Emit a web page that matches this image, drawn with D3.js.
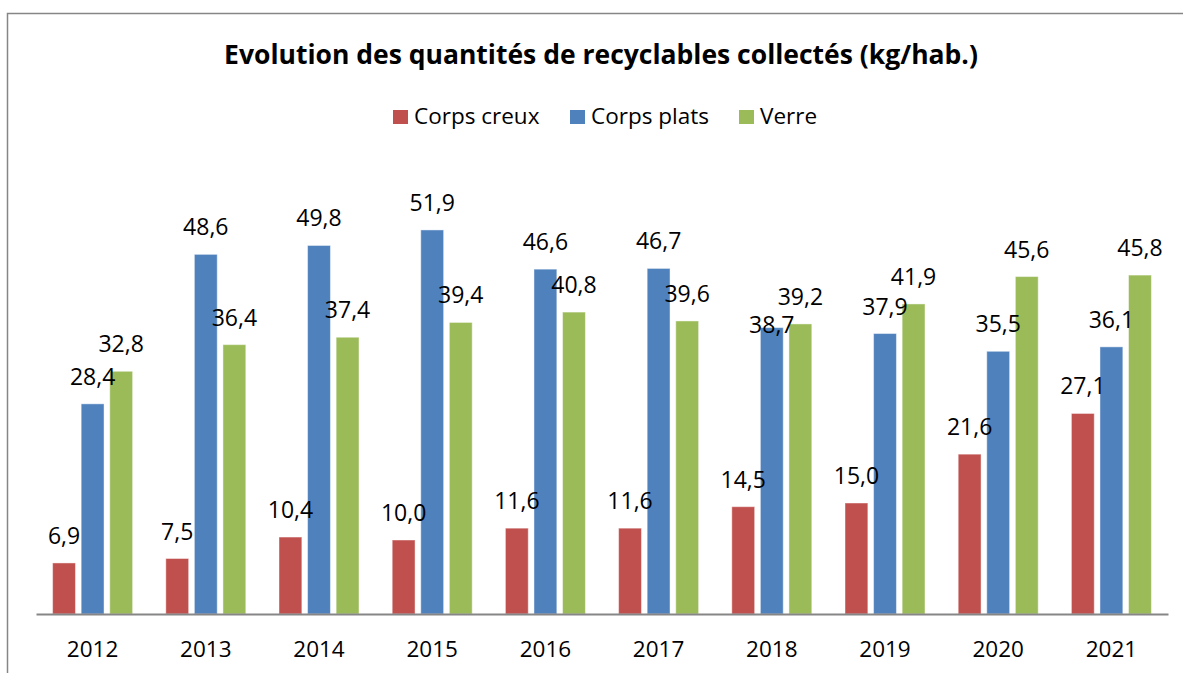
<!DOCTYPE html>
<html lang="fr">
<head>
<meta charset="utf-8"/>
<title>Evolution des quantités de recyclables collectés</title>
<script src="https://d3js.org/d3.v7.min.js"></script>
<style>
  html, body { margin: 0; padding: 0; background: #fff; }
  svg { display: block; font-family: "Open Sans", "Noto Sans", sans-serif; }
</style>
</head>
<body>
<svg id="chart"></svg>
<script>
const years = ["2012", "2013", "2014", "2015", "2016", "2017", "2018", "2019", "2020", "2021"];
const seriesNames = ["Corps creux", "Corps plats", "Verre"];
const corpsCreux = [6.9, 7.5, 10.4, 10.0, 11.6, 11.6, 14.5, 15.0, 21.6, 27.1];
const corpsPlats = [28.4, 48.6, 49.8, 51.9, 46.6, 46.7, 38.7, 37.9, 35.5, 36.1];
const verre = [32.8, 36.4, 37.4, 39.4, 40.8, 39.6, 39.2, 41.9, 45.6, 45.8];
const colors = ["#C0504D", "#4F81BD", "#9BBB59"];

const width = 1183, height = 673;
const plot = {left: 36, right: 1168, top: 170, bottom: 614};

const svg = d3.select("#chart")
  .attr("width", width)
  .attr("height", height);

// chart frame (only left and top edges are visible in the crop)
svg.append("path")
  .attr("d", "M7.5," + height + " V13.5 H" + width)
  .attr("fill", "none")
  .attr("stroke", "#868686")
  .attr("stroke-width", 1.5);

const values = [corpsCreux, corpsPlats, verre];
const rows = years.map(function(y, i) {
  return {year: y, vals: values.map(function(v, s) { return {s: s, v: v[i]}; })};
});

let x = d3.scaleBand()
  .domain(years)
  .range([plot.left, plot.right])
  .padding(0);

let xs = d3.scaleBand()
  .domain([0, 1, 2])
  .range([-40, 40])
  .paddingInner(0.2);

let y = d3.scaleLinear()
  .domain([0, 60])
  .range([plot.bottom, plot.top]);

const groups = svg.selectAll("g.year")
  .data(rows)
  .enter()
  .append("g")
    .attr("class", "year")
    .attr("transform", function(d) { return "translate(" + (x(d.year) + x.bandwidth() / 2) + ",0)"; });

groups.selectAll("rect")
  .data(function(d) { return d.vals; })
  .enter()
  .append("rect")
    .attr("x", function(d) { return xs(d.s); })
    .attr("y", function(d) { return y(d.v); })
    .attr("width", xs.bandwidth())
    .attr("height", function(d) { return y(0) - y(d.v); })
    .attr("fill", function(d) { return colors[d.s]; })
    .attr("stroke", "rgba(255,255,255,0.45)")
    .attr("stroke-width", 1);

// one label was nudged down in the original to avoid its neighbour
const nudge = {"2018-1": 24};

groups.selectAll("text.lbl")
  .data(function(d) { return d.vals.map(function(v) { return Object.assign({year: d.year}, v); }); })
  .enter()
  .append("text")
    .attr("class", "lbl")
    .attr("x", function(d) { return xs(d.s) + xs.bandwidth() / 2; })
    .attr("y", function(d) { return y(d.v) - 19 + (nudge[d.year + "-" + d.s] || 0); })
    .attr("text-anchor", "middle")
    .attr("font-size", "23px")
    .attr("fill", "#000")
    .text(function(d) { return d3.format(".1f")(d.v).replace(".", ","); });

// x axis
const xAxis = svg.append("g")
  .attr("transform", "translate(0," + plot.bottom + ")")
  .call(d3.axisBottom(x).tickSize(0).tickPadding(27));
xAxis.select(".domain").attr("stroke", "#868686").attr("stroke-width", 2);
xAxis.selectAll("text")
  .attr("font-family", "'Open Sans', 'Noto Sans', sans-serif")
  .attr("font-size", "22.5px")
  .attr("fill", "#000");

// title
svg.append("text")
  .attr("x", 601)
  .attr("y", 64)
  .attr("text-anchor", "middle")
  .attr("font-weight", "bold")
  .attr("font-size", "26.5px")
  .text("Evolution des quantités de recyclables collectés (kg/hab.)");

// legend
const legendX = [393, 570, 739];
const legend = svg.selectAll("g.leg")
  .data(seriesNames)
  .enter()
  .append("g")
    .attr("class", "leg")
    .attr("transform", function(d, i) { return "translate(" + legendX[i] + ",0)"; });

legend.append("rect")
  .attr("x", 0)
  .attr("y", 110)
  .attr("width", 15)
  .attr("height", 14)
  .attr("fill", function(d, i) { return colors[i]; });

legend.append("text")
  .attr("x", 21)
  .attr("y", 124)
  .attr("font-size", "22.5px")
  .text(function(d) { return d; });
</script>
</body>
</html>
